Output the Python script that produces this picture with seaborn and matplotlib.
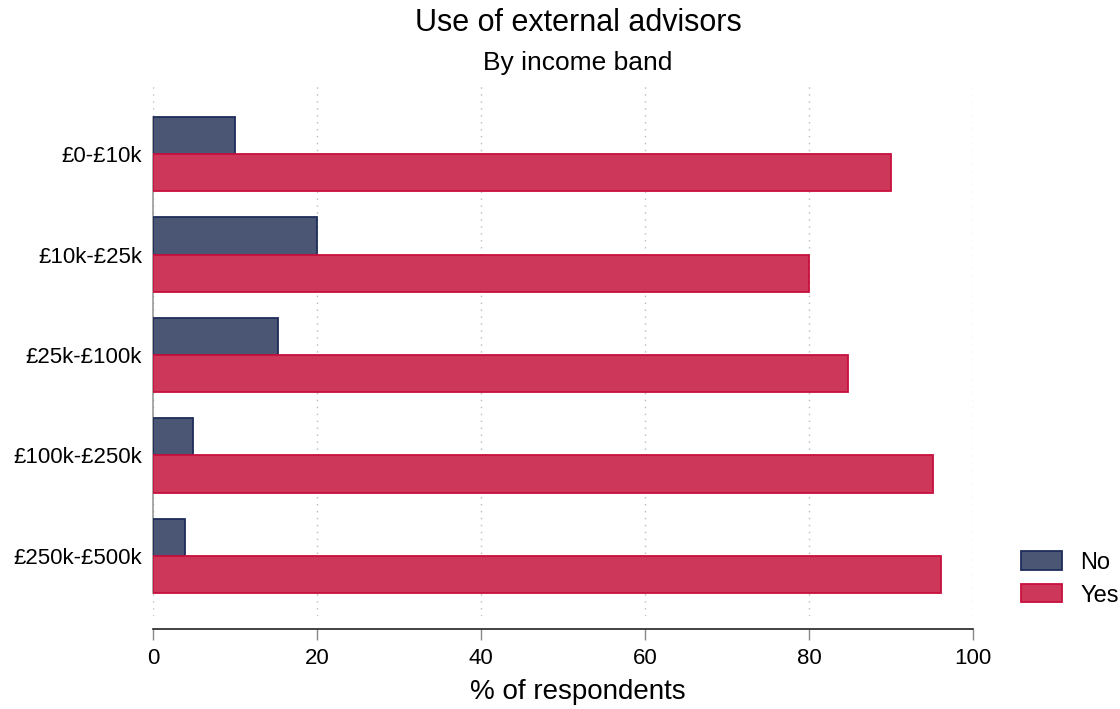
import matplotlib
matplotlib.use("Agg")
import matplotlib.pyplot as plt
import seaborn as sns
import pandas as pd
from matplotlib.patches import Patch

categories = ["£0-£10k", "£10k-£25k", "£25k-£100k", "£100k-£250k", "£250k-£500k"]
no_values = [10.0, 20.0, 15.2, 4.9, 3.9]
yes_values = [90.0, 80.0, 84.8, 95.1, 96.1]
series = ["No", "Yes"]
xticks = [0, 20, 40, 60, 80, 100]

df = pd.DataFrame({
    "band": categories * 2,
    "answer": ["No"] * len(categories) + ["Yes"] * len(categories),
    "pct": no_values + yes_values,
})

sns.set_theme(style="white")
plt.rcParams["font.family"] = ["Liberation Sans", "DejaVu Sans"]
plt.rcParams["text.color"] = "black"
plt.rcParams["axes.labelcolor"] = "black"
plt.rcParams["xtick.color"] = "black"
plt.rcParams["ytick.color"] = "black"

fill = {"No": "#4b5675", "Yes": "#cc375a"}
edge = {"No": "#1f2d5a", "Yes": "#c8103e"}

fig = plt.figure(figsize=(11.2, 7.09), dpi=100)
ax = fig.add_axes([153/1120, 1-616/709, (973-153)/1120, (616-85)/709])

sns.barplot(data=df, y="band", x="pct", hue="answer", order=categories,
            hue_order=series, palette=fill, orient="h", width=0.74,
            saturation=1, ax=ax, legend=False, zorder=3)
for cont, s in zip(ax.containers, series):
    for p in cont:
        p.set_edgecolor(edge[s])
        p.set_linewidth(1.3)

for s in ["top", "right"]:
    ax.spines[s].set_visible(False)
ax.spines["bottom"].set_position(("outward", 9))
ax.spines["bottom"].set_color("#222222")
ax.spines["bottom"].set_linewidth(1.2)
ax.spines["left"].set_color("#999999")
ax.spines["left"].set_linewidth(1.2)

ax.set_xlim(0, 100)
ax.set_ylim(4.6, -0.69)
ax.spines["bottom"].set_bounds(0, 100)
ax.spines["left"].set_bounds(-0.37, 4.37)
ax.set_xticks(xticks)
ax.set_xticklabels([str(t) for t in xticks])
ax.tick_params(axis="x", length=8, width=1, color="#888888", pad=6,
               direction="out", bottom=True, labelsize=16, labelcolor="black")
ax.tick_params(axis="y", length=0, pad=8, labelsize=16, labelcolor="black")
ax.grid(axis="x", linestyle=(0, (1, 4)), color="#bbbbbb", linewidth=1, zorder=0)
ax.grid(axis="y", visible=False)

ax.set_ylabel("")
ax.set_xlabel("% of respondents", fontsize=20, color="black")
ax.xaxis.set_label_coords((578-153)/820, (616-679)/531)

fig.text(578/1120, 1-23/709, "Use of external advisors", ha="center", va="center", fontsize=22)
fig.text(578/1120, 1-63/709, "By income band", ha="center", va="center", fontsize=19)

handles = [Patch(facecolor=fill[s], edgecolor=edge[s], linewidth=1.3, label=s) for s in series]
fig.legend(handles=handles, loc="center left", bbox_to_anchor=(1021/1120, 1-579/709),
           frameon=False, fontsize=17, handlelength=1.75, handleheight=0.8,
           labelspacing=0.45, handletextpad=0.75, borderpad=0, borderaxespad=0)

fig.savefig("out.png", dpi=100)
